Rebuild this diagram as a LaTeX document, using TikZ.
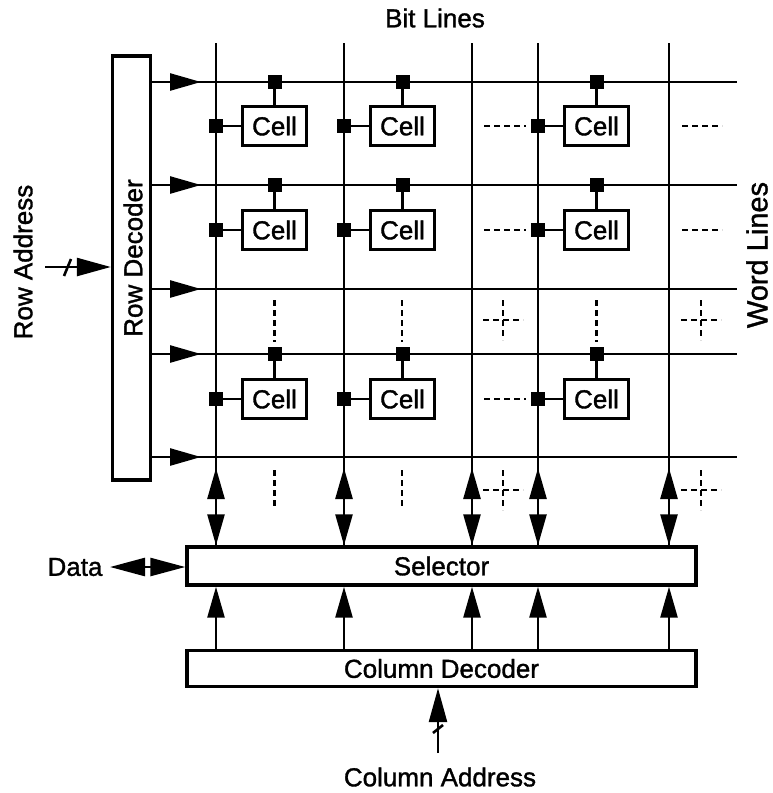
\documentclass[tikz,border=0pt]{standalone}
\usepackage{fontspec}
\setmainfont{Liberation Sans}[BoldFont={Liberation Sans},BoldFeatures={FakeBold=1.3}]
\usetikzlibrary{arrows.meta}
\begin{document}
\begin{tikzpicture}[x=1pt,y=-1pt,
  font=\fontsize{26}{30}\selectfont\bfseries,
  wire/.style={line width=2.6pt},
  box/.style={draw,line width=3.4pt,inner sep=0pt},
  cellbox/.style={draw,line width=3.2pt,minimum width=64pt,minimum height=39pt,inner sep=0pt},
  junc/.style={fill,minimum size=14pt,inner sep=0pt},
  dsh/.style={line width=2.4pt,dash pattern=on 6pt off 4pt},
  head/.style={-{Triangle[length=31pt,width=17pt]}},
  dhead/.style={{Triangle[length=31pt,width=17pt]}-{Triangle[length=31pt,width=17pt]}},
  bighead/.style={-{Triangle[length=34pt,width=18pt]}}
]
\useasboundingbox (0,0) rectangle (773,793);

% boxes
\node[box,minimum width=38pt,minimum height=424pt] (rd) at (131.5,268) {};
\node[rotate=90] (rdtext) at (133,258) {Row Decoder};
\node[box,minimum width=509pt,minimum height=38pt] (sel) at (441.5,566) {Selector};
\node[box,minimum width=509pt,minimum height=36pt] (col) at (441.5,668.5) {Column Decoder};

% labels
\node (bitl) at (435,18) {Bit Lines};
\node[rotate=90,font=\fontsize{29}{32}\selectfont\bfseries] (wordl) at (757,255) {Word Lines};
\node[rotate=90] (rowa) at (23,262) {Row Address};
\node[anchor=east] (data) at (106,567) {Data};
\node (cola) at (440,777) {Column Address};

% word lines
\foreach \y [count=\i] in {82,185,289,354,457}{
  \coordinate (wle\i) at (737,\y);
  \coordinate (wla\i) at (201,\y);
  \draw[wire] (rd.east |- wle\i) -- (wle\i);
  \draw[wire,head] (rd.east |- wle\i) -- (wla\i);
}

% bit lines
\foreach \x [count=\i] in {216,344,472,538,669}{
  \coordinate (bt\i) at (\x,43);
  \coordinate (ba\i) at (\x,468);
  \draw[wire] (bt\i) -- (bt\i |- sel.north);
  \draw[wire,dhead] (ba\i) -- (ba\i |- sel.north);
  \draw[wire,head] (bt\i |- col.north) -- (bt\i |- sel.south);
}

% cells
\foreach \r/\cy/\wy in {1/126/82,2/230/185,3/399/354}{
  \foreach \c/\bx in {1/216,2/344,3/538}{
    \node[cellbox] (c\r\c) at (\bx+58.5,\cy) {Cell};
    \node[junc] (w\r\c) at (\bx+58.5,\wy) {};
    \node[junc] (s\r\c) at (\bx,\cy) {};
    \draw[wire] (w\r\c) -- (c\r\c);
    \draw[wire] (s\r\c) -- (c\r\c);
  }
}

% dashed continuation marks
\foreach \y in {126,230,399}{
  \draw[dsh] (484,\y) -- (526,\y);
}
\foreach \y in {126,230}{
  \draw[dsh] (682,\y) -- (722,\y);
}
\foreach \x in {274.5,402,596.5}{
  \draw[dsh] (\x,300) -- (\x,342);
}
\foreach \x in {274.5,402}{
  \draw[dsh] (\x,470) -- (\x,508);
}
\foreach \cx/\cy in {503/320,701/320,503/490,701/490}{
  \draw[dsh] (\cx-20,\cy) -- (\cx+20,\cy);
  \draw[dsh] (\cx,\cy-20) -- (\cx,\cy+20);
}

% inputs
\coordinate (ra) at (45,267);
\draw[wire,bighead] (ra) -- (ra -| rd.west);
\draw[wire] (64,276) -- (71,259);

\coordinate (da) at (110,567);
\draw[wire,{Triangle[length=35pt,width=18pt]}-{Triangle[length=35pt,width=18pt]}] (da) -- (da -| sel.west);

\coordinate (ca) at (438,753);
\draw[wire,bighead] (ca) -- (ca |- col.south);
\draw[wire] (433,733) -- (443,725);
\end{tikzpicture}
\end{document}
